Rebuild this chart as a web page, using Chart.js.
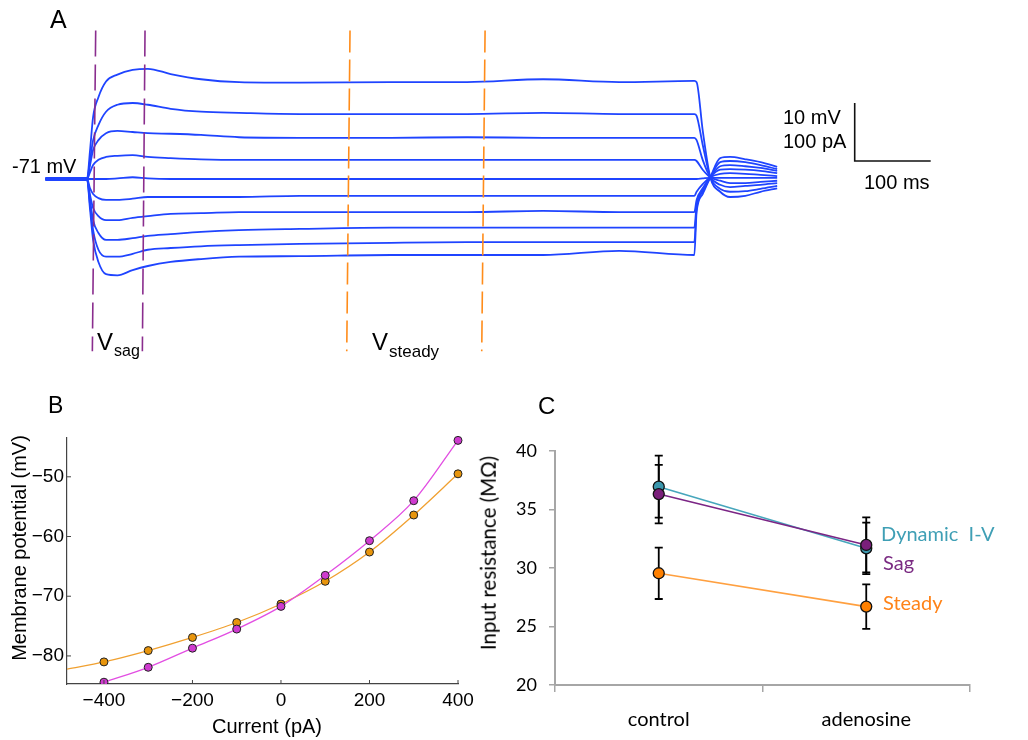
<!DOCTYPE html>
<html>
<head>
<meta charset="utf-8">
<script src="https://cdn.jsdelivr.net/npm/chart.js@4.4.1/dist/chart.umd.min.js"></script>
<style>
  body { margin:0; background:#fff; width:1028px; height:740px; position:relative; overflow:hidden;
         font-family:"Liberation Sans", Arial, sans-serif; }
  canvas { position:absolute; }
  .t { position:absolute; line-height:1; white-space:pre; color:#000; }
  .c { font-family:Lato, sans-serif; }
</style>
</head>
<body>
<canvas id="chartA" width="1028" height="370" style="left:0;top:0"></canvas>
<canvas id="chartB" width="490" height="350" style="left:0;top:390px"></canvas>
<canvas id="chartC" width="548" height="350" style="left:480px;top:390px"></canvas>

<!-- panel A text -->
<div class="t" style="left:50px;top:7px;font-size:25px">A</div>
<div class="t" style="left:12px;top:156px;font-size:20px">-71 mV</div>
<div class="t" style="left:97px;top:330px;font-size:24px">V</div>
<div class="t" style="left:114px;top:343px;font-size:16px">sag</div>
<div class="t" style="left:372px;top:330px;font-size:24px">V</div>
<div class="t" style="left:389px;top:343px;font-size:17px">steady</div>
<div class="t" style="left:783px;top:107px;font-size:20px">10 mV</div>
<div class="t" style="left:783px;top:131px;font-size:20px">100 pA</div>
<div class="t" style="left:864px;top:172px;font-size:20px">100 ms</div>

<!-- panel B text -->
<div class="t" style="left:48px;top:394px;font-size:23px">B</div>
<div class="t" style="left:267px;top:716px;font-size:20px;transform:translateX(-50%)">Current (pA)</div>
<div class="t" style="left:19px;top:548px;font-size:20px;transform:translate(-50%,-50%) rotate(-90deg)">Membrane potential (mV)</div>

<!-- panel C text -->
<div class="t" style="left:538px;top:394px;font-size:24px">C</div>
<div class="t c" style="left:488px;top:553px;font-size:20.5px;transform:translate(-50%,-50%) rotate(-90deg)">Input resistance (MΩ)</div>
<div class="t c" style="left:881px;top:523px;font-size:20px;color:#3f9fb5">Dynamic  I-V</div>
<div class="t c" style="left:883px;top:552px;font-size:20px;color:#7a2a82">Sag</div>
<div class="t c" style="left:883px;top:592px;font-size:20px;color:#ff8318">Steady</div>

<script>
// ---- panel A: voltage responses to current steps (time ms, potential mV)
const traceTimes = [-55, 0, 4, 8, 15, 25, 40, 60, 80, 110, 150, 200, 280, 400, 500, 600, 700, 799,
                    802, 810, 820, 833, 846, 866, 886, 908];
const traces = [
  [-71.0,-71.0,-66.0,-60.3,-56.9,-54.2,-53.0,-52.2,-52.0,-52.9,-53.8,-54.3,-54.4,-54.3,-54.3,-53.8,-54.3,-54.1,-54.3,-62.6,-70.7,-73.2,-74.1,-73.9,-73.2,-72.6],
  [-71.0,-71.0,-67.7,-64.3,-61.7,-59.4,-58.2,-57.9,-58.2,-58.9,-59.4,-59.6,-59.8,-59.8,-59.8,-59.6,-59.8,-59.8,-60.1,-65.1,-70.7,-72.7,-73.2,-73.1,-72.7,-72.2],
  [-71.0,-71.0,-68.6,-66.0,-64.3,-63.1,-62.7,-62.9,-63.1,-63.2,-63.4,-63.8,-63.9,-63.9,-63.8,-63.9,-63.9,-63.9,-64.3,-67.7,-70.7,-72.0,-72.4,-72.2,-72.0,-71.7],
  [-71.0,-71.0,-69.8,-68.6,-67.7,-67.2,-67.0,-66.9,-67.2,-67.4,-67.6,-67.7,-67.7,-67.7,-67.7,-67.7,-67.7,-67.7,-67.9,-69.4,-70.7,-71.3,-71.7,-71.7,-71.5,-71.3],
  [-71.0,-71.0,-71.0,-71.0,-71.0,-71.0,-70.9,-70.7,-70.9,-71.0,-71.0,-71.0,-71.0,-71.0,-71.0,-71.0,-71.0,-71.0,-71.0,-70.9,-70.8,-70.8,-70.8,-70.8,-70.8,-70.8],
  [-71.0,-71.0,-72.6,-73.6,-74.3,-74.6,-74.6,-74.4,-74.1,-74.1,-74.1,-74.1,-73.9,-73.9,-73.9,-73.9,-73.9,-73.9,-73.2,-71.9,-70.7,-70.1,-70.0,-70.1,-70.3,-70.5],
  [-71.0,-71.0,-73.8,-76.0,-77.4,-78.1,-78.1,-77.7,-77.4,-77.0,-76.9,-76.7,-76.7,-76.7,-76.7,-76.5,-76.7,-76.7,-74.6,-72.6,-70.7,-69.4,-69.3,-69.4,-69.6,-70.0],
  [-71.0,-71.0,-74.6,-78.1,-80.3,-81.5,-81.5,-81.2,-80.8,-80.5,-80.1,-79.8,-79.6,-79.4,-79.4,-79.4,-79.4,-79.4,-75.5,-72.9,-70.7,-68.8,-68.6,-68.8,-69.1,-69.6],
  [-71.0,-71.0,-75.5,-79.8,-83.2,-84.4,-84.4,-83.9,-83.2,-82.9,-82.6,-82.4,-82.2,-82.0,-81.9,-81.9,-81.9,-81.9,-76.0,-73.2,-70.7,-68.1,-67.9,-68.1,-68.6,-69.3],
  [-71.0,-71.0,-76.3,-81.5,-85.3,-87.4,-87.6,-86.7,-86.0,-85.3,-84.8,-84.4,-84.3,-84.1,-84.1,-84.1,-83.4,-84.1,-76.7,-73.6,-70.7,-67.4,-67.2,-67.6,-68.1,-68.9]
];
const holdTimes = [-55, 0];
const holdPotential = -71;
// measurement windows (dashed markers), top and bottom end times in ms
const sagTimesTop = [11.4, 76.3], sagTimesBottom = [7.0, 72.8];
const steadyTimesTop = [346, 523.7], steadyTimesBottom = [341.7, 519.3];
const windowRange = [-45.4, -100.7];
// scale bar: corner (ms, mV) and size 100 ms / 10 mV
const scaleBarCorner = [1010, -67.9];
const scaleBarSize = [100, 10];

// ---- panel B: I-V relation
const ivCurrents = [-400, -300, -200, -100, 0, 100, 200, 300, 400];
const ivSteady = [-81.0, -79.1, -76.9, -74.4, -71.3, -67.5, -62.6, -56.4, -49.5];
const ivSag = [-84.4, -81.9, -78.7, -75.5, -71.7, -66.5, -60.7, -54.0, -43.9];
const ivSteadyLeftEnd = [-483.5, -82.2];

// ---- panel C: input resistance
const conditions = ['control', 'adenosine'];
const rinDynamic = [36.95, 31.68];
const rinSag = [36.32, 31.97];
const rinSteady = [29.55, 26.7];
const errDynamic = [2.65, 2.2];
const errSag = [2.5, 2.35];
const errSteady = [2.2, 1.9];

const pts = (xs, ys) => xs.map((x, i) => ({x, y: ys[i]}));

// ---------- chart A
const dsA = [];
sagTimesTop.forEach((t, i) => dsA.push({
  data: [{x: t, y: windowRange[0]}, {x: sagTimesBottom[i], y: windowRange[1]}],
  borderColor: '#8a2d8e', borderWidth: 1.6, borderDash: [26, 8], pointRadius: 0
}));
steadyTimesTop.forEach((t, i) => dsA.push({
  data: [{x: t, y: windowRange[0]}, {x: steadyTimesBottom[i], y: windowRange[1]}],
  borderColor: '#ff8c1a', borderWidth: 1.6, borderDash: [22, 7], pointRadius: 0
}));
dsA.push({
  data: [
    {x: scaleBarCorner[0], y: scaleBarCorner[1] + scaleBarSize[1]},
    {x: scaleBarCorner[0], y: scaleBarCorner[1]},
    {x: scaleBarCorner[0] + scaleBarSize[0], y: scaleBarCorner[1]}
  ],
  borderColor: '#111', borderWidth: 1.6, pointRadius: 0
});
dsA.push({
  data: holdTimes.map(t => ({x: t, y: holdPotential})),
  borderColor: '#1f44ff', borderWidth: 4, pointRadius: 0
});
traces.forEach(tr => dsA.push({
  data: pts(traceTimes, tr),
  borderColor: '#1f44ff', borderWidth: 1.8, pointRadius: 0,
  cubicInterpolationMode: 'monotone'
}));

new Chart(document.getElementById('chartA'), {
  type: 'line',
  data: {datasets: dsA},
  options: {
    responsive: false, animation: false, devicePixelRatio: 1,
    layout: {padding: 0},
    plugins: {legend: {display: false}, tooltip: {enabled: false}},
    scales: {
      x: {type: 'linear', display: false, min: -114.5, max: 1238},
      y: {type: 'linear', display: false, min: -103.93, max: -40.14}
    }
  }
});

// ---------- chart B
const minus = v => (v < 0 ? '\u2212' + Math.abs(v) : String(v));
const inwardTicks = {
  id: 'inwardTicks',
  afterDraw(chart) {
    const {ctx, chartArea: a, scales: {x, y}} = chart;
    ctx.save();
    ctx.strokeStyle = '#444';
    ctx.lineWidth = 1;
    ctx.beginPath();
    x.ticks.forEach(tk => { const px = x.getPixelForValue(tk.value); ctx.moveTo(px, a.bottom); ctx.lineTo(px, a.bottom - 4); });
    y.ticks.forEach(tk => { const py = y.getPixelForValue(tk.value); ctx.moveTo(a.left, py); ctx.lineTo(a.left + 4, py); });
    ctx.stroke();
    ctx.restore();
  }
};
const fontB = {family: '"Liberation Sans", Arial, sans-serif', size: 19};
new Chart(document.getElementById('chartB'), {
  type: 'line',
  data: {datasets: [
    {data: pts(ivCurrents, ivSag), borderColor: '#e24ee2', backgroundColor: '#cf3acf',
     pointBorderColor: '#222', pointBorderWidth: 1, pointRadius: 4, borderWidth: 1.3,
     cubicInterpolationMode: 'monotone', clip: {left: 0, top: 8, right: 8, bottom: 0}},
    {data: [{x: ivSteadyLeftEnd[0], y: ivSteadyLeftEnd[1]}, ...pts(ivCurrents, ivSteady)],
     borderColor: '#f0a030', backgroundColor: '#e8950c',
     pointBorderColor: '#222', pointBorderWidth: 1, pointRadius: [0, 4, 4, 4, 4, 4, 4, 4, 4, 4], borderWidth: 1.3,
     cubicInterpolationMode: 'monotone', clip: {left: 0, top: 8, right: 8, bottom: 0}}
  ]},
  options: {
    responsive: false, animation: false, devicePixelRatio: 1,
    layout: {padding: {top: 48, right: 32, left: 0, bottom: 0}},
    plugins: {legend: {display: false}, tooltip: {enabled: false}},
    scales: {
      x: {type: 'linear', min: -483.5, max: 400,
          grid: {display: false, drawTicks: false}, border: {color: '#444', width: 1.2},
          ticks: {stepSize: 200, includeBounds: false, color: '#000', font: fontB, padding: 5, callback: minus, maxRotation: 0},
          afterFit: s => { s.height = 56; }},
      y: {type: 'linear', min: -84.7, max: -43.5,
          grid: {display: false, drawTicks: false}, border: {color: '#444', width: 1.2},
          ticks: {stepSize: 10, includeBounds: false, color: '#000', font: fontB, padding: 3, callback: minus},
          afterFit: s => { s.width = 67; }}
    }
  },
  plugins: [inwardTicks]
});

// ---------- chart C
const errorBars = {
  id: 'errorBars',
  beforeDatasetsDraw(chart) {
    const {ctx, scales: {x, y}} = chart;
    ctx.save();
    ctx.strokeStyle = '#000';
    ctx.lineWidth = 1.8;
    chart.data.datasets.forEach(ds => {
      ds.data.forEach((v, j) => {
        const px = x.getPixelForValue(j);
        const top = y.getPixelForValue(v + ds.errors[j]);
        const bot = y.getPixelForValue(v - ds.errors[j]);
        ctx.beginPath();
        ctx.moveTo(px, top); ctx.lineTo(px, bot);
        ctx.moveTo(px - 4, top); ctx.lineTo(px + 4, top);
        ctx.moveTo(px - 4, bot); ctx.lineTo(px + 4, bot);
        ctx.stroke();
      });
    });
    ctx.restore();
  }
};
const fontC = {family: 'Lato, sans-serif', size: 18};
new Chart(document.getElementById('chartC'), {
  type: 'line',
  data: {labels: conditions, datasets: [
    {data: rinSag, errors: errSag, borderColor: '#7b2585', backgroundColor: '#7a1f7a',
     pointBorderColor: '#111', pointBorderWidth: 1.3, pointRadius: 5.5, borderWidth: 1.6},
    {data: rinDynamic, errors: errDynamic, borderColor: '#46a6bc', backgroundColor: '#3b97ad',
     pointBorderColor: '#111', pointBorderWidth: 1.3, pointRadius: 5.5, borderWidth: 1.6},
    {data: rinSteady, errors: errSteady, borderColor: '#ffa040', backgroundColor: '#ff8000',
     pointBorderColor: '#111', pointBorderWidth: 1.3, pointRadius: 5.5, borderWidth: 1.6}
  ]},
  options: {
    responsive: false, animation: false, devicePixelRatio: 1,
    layout: {padding: {top: 61, right: 58, left: 0, bottom: 0}},
    plugins: {legend: {display: false}, tooltip: {enabled: false}},
    scales: {
      x: {type: 'category', offset: true,
          grid: {display: true, drawOnChartArea: false, drawTicks: true, tickLength: 7, offset: true, color: '#a6a6a6', lineWidth: 1.5},
          border: {color: '#a6a6a6', width: 2},
          ticks: {color: '#000', font: {family: 'Lato, sans-serif', size: 20}, padding: 16, maxRotation: 0},
          afterFit: s => { s.height = 55; }},
      y: {type: 'linear', min: 20, max: 40,
          grid: {display: true, drawOnChartArea: false, drawTicks: true, tickLength: 6, color: '#a6a6a6', lineWidth: 1.5},
          border: {color: '#a6a6a6', width: 2},
          ticks: {stepSize: 5, color: '#000', font: fontC, padding: 12},
          afterFit: s => { s.width = 75; }}
    }
  },
  plugins: [errorBars]
});
</script>
</body>
</html>
